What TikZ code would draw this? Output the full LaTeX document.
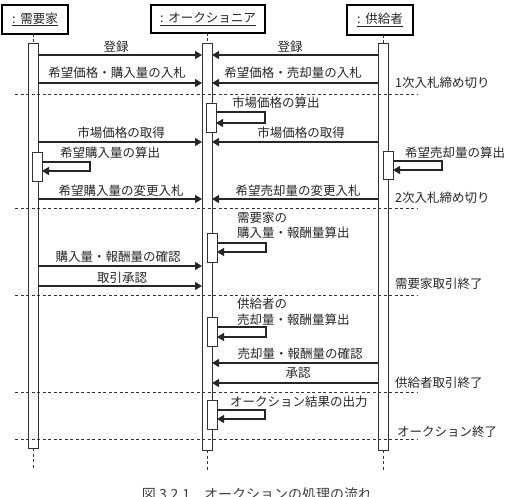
\documentclass[tikz,border=0pt]{standalone}
\usepackage{fontspec}
\setmainfont{Noto Sans CJK JP}
\usetikzlibrary{arrows.meta}
\tikzset{
  headbox/.style={draw=black, line width=1.2pt, fill=white, inner sep=0pt, outer sep=0pt, font=\fontsize{12.5}{14}\selectfont, text=black!85},
  lifebar/.style={draw=black!80, line width=0.9pt, fill=white, minimum width=10pt, inner sep=0pt, outer sep=0pt},
  actbox/.style={draw=black!80, line width=0.9pt, fill=white, minimum width=10pt, minimum height=29pt, inner sep=0pt, outer sep=0pt},
  msg/.style={draw=black!85, line width=1.2pt, -{Triangle[length=7pt,width=8pt]}},
  selfmsg/.style={draw=black!85, line width=1.2pt, -{Triangle[length=7pt,width=8pt]}},
  sep/.style={draw=black!80, line width=0.9pt, dash pattern=on 3pt off 2.5pt},
  lifedash/.style={draw=black!80, line width=0.9pt, dash pattern=on 3pt off 2.5pt},
  lbl/.style={font=\fontsize{12.5}{15}\selectfont, text=black!85, inner sep=0pt},
  caption/.style={font=\fontsize{14}{16}\selectfont, text=black!75, inner sep=0pt}
}
\begin{document}
\begin{tikzpicture}[x=1pt,y=-1pt]
\useasboundingbox (0,0) rectangle (514,497);
% life bars
\node[lifebar, minimum height=405pt] (bbar) at (33,245.5) {};
\node[lifebar, minimum height=407pt] (abar) at (207,246.5) {};
\node[lifebar, minimum height=407pt] (sbar) at (383,246.5) {};
% headers
\node[headbox, minimum width=66pt, minimum height=29pt] (bhead) at (35,19.5) {\underline{:\hspace{5pt}需要家}};
\node[headbox, minimum width=114pt, minimum height=28pt] (ahead) at (208,19) {\underline{:\hspace{5pt}オークショニア}};
\node[headbox, minimum width=66pt, minimum height=30pt] (shead) at (380,20) {\underline{:\hspace{5pt}供給者}};
% lifeline dashes
\coordinate (bend) at (33,470);
\coordinate (aend) at (207,470);
\coordinate (send) at (383,470);
\draw[lifedash] (bhead.south -| bbar.north) -- (bbar.north);
\draw[lifedash] (ahead.south -| abar.north) -- (abar.north);
\draw[lifedash] (shead.south -| sbar.north) -- (sbar.north);
\draw[lifedash] (bbar.south) -- (bend);
\draw[lifedash] (abar.south) -- (aend);
\draw[lifedash] (sbar.south) -- (send);
% activation boxes
\node[actbox] (act1) at (211,117.5) {};
\node[actbox] (act2) at (37,166.5) {};
\node[actbox, minimum height=28pt] (act3) at (388,165) {};
\node[actbox] (act4) at (212,247.5) {};
\node[actbox] (act5) at (212,331.5) {};
\node[actbox] (act6) at (212,414.5) {};
% messages
\draw[msg] (bbar.east |- 0,55) -- (abar.west |- 0,55);
\node[lbl] (t1) at (116,47) {登録};
\draw[msg] (sbar.west |- 0,55) -- (abar.east |- 0,55);
\node[lbl] (t2) at (290,47) {登録};
\draw[msg] (bbar.east |- 0,83) -- (abar.west |- 0,83);
\node[lbl] (t3) at (117,73) {希望価格・購入量の入札};
\draw[msg] (sbar.west |- 0,83) -- (abar.east |- 0,83);
\node[lbl] (t4) at (293,73) {希望価格・売却量の入札};
% self 1
\draw[selfmsg] (act1.east |- 0,112) -- (265,112) -- (265,123) -- (act1.east |- 0,123);
\node[lbl, anchor=west] (t5) at (232,103) {市場価格の算出};
\draw[msg] (bbar.east |- 0,142) -- (abar.west |- 0,142);
\node[lbl] (t6) at (121,133) {市場価格の取得};
\draw[msg] (sbar.west |- 0,142) -- (abar.east |- 0,142);
\node[lbl] (t7) at (301,133) {市場価格の取得};
% self 2, 3
\draw[selfmsg] (act2.east |- 0,162) -- (90,162) -- (90,171) -- (act2.east |- 0,171);
\node[lbl, anchor=west] (t8) at (60,153) {希望購入量の算出};
\draw[selfmsg] (act3.east |- 0,161) -- (442,161) -- (442,170) -- (act3.east |- 0,170);
\node[lbl, anchor=west] (t9) at (405,153) {希望売却量の算出};
\draw[msg] (bbar.east |- 0,199) -- (abar.west |- 0,199);
\node[lbl] (t10) at (121,191) {希望購入量の変更入札};
\draw[msg] (sbar.west |- 0,199) -- (abar.east |- 0,199);
\node[lbl] (t11) at (298,191) {希望売却量の変更入札};
% self 4
\node[lbl, anchor=west] (t12) at (237,218) {需要家の};
\node[lbl, anchor=west] (t13) at (237,233) {購入量・報酬量算出};
\draw[selfmsg] (act4.east |- 0,243) -- (266,243) -- (266,252) -- (act4.east |- 0,252);
\draw[msg] (bbar.east |- 0,266) -- (abar.west |- 0,266);
\node[lbl] (t14) at (118,257) {購入量・報酬量の確認};
\draw[msg] (bbar.east |- 0,286) -- (abar.west |- 0,286);
\node[lbl] (t15) at (122,278) {取引承認};
% self 5
\node[lbl, anchor=west] (t16) at (237,304) {供給者の};
\node[lbl, anchor=west] (t17) at (237,320) {売却量・報酬量算出};
\draw[selfmsg] (act5.east |- 0,327) -- (266,327) -- (266,337) -- (act5.east |- 0,337);
\draw[msg] (sbar.west |- 0,363) -- (abar.east |- 0,363);
\node[lbl] (t18) at (300,354) {売却量・報酬量の確認};
\draw[msg] (sbar.west |- 0,383) -- (abar.east |- 0,383);
\node[lbl] (t19) at (298,373) {承認};
% self 6
\node[lbl, anchor=west] (t20) at (230,402) {オークション結果の出力};
\draw[selfmsg] (act6.east |- 0,410) -- (265,410) -- (265,419) -- (act6.east |- 0,419);
% separators
\coordinate (s1l) at (15,94);  \coordinate (s1r) at (418,94);
\coordinate (s2l) at (15,208); \coordinate (s2r) at (418,208);
\coordinate (s3l) at (15,295); \coordinate (s3r) at (418,295);
\coordinate (s4l) at (15,392); \coordinate (s4r) at (418,392);
\coordinate (s5l) at (15,439); \coordinate (s5r) at (418,439);
\draw[sep] (s1l) -- (s1r);
\draw[sep] (s2l) -- (s2r);
\draw[sep] (s3l) -- (s3r);
\draw[sep] (s4l) -- (s4r);
\draw[sep] (s5l) -- (s5r);
\node[lbl, anchor=west] (n1) at (395,83) {1次入札締め切り};
\node[lbl, anchor=west] (n2) at (395,198) {2次入札締め切り};
\node[lbl, anchor=west] (n3) at (395,284) {需要家取引終了};
\node[lbl, anchor=west] (n4) at (395,383) {供給者取引終了};
\node[lbl, anchor=west] (n5) at (397,432) {オークション終了};
% caption (cut at the lower edge, as in the reference)
\node[caption, anchor=north] (cap) at (257,488) {図 3.2.1\quad オークションの処理の流れ};
\end{tikzpicture}
\end{document}
